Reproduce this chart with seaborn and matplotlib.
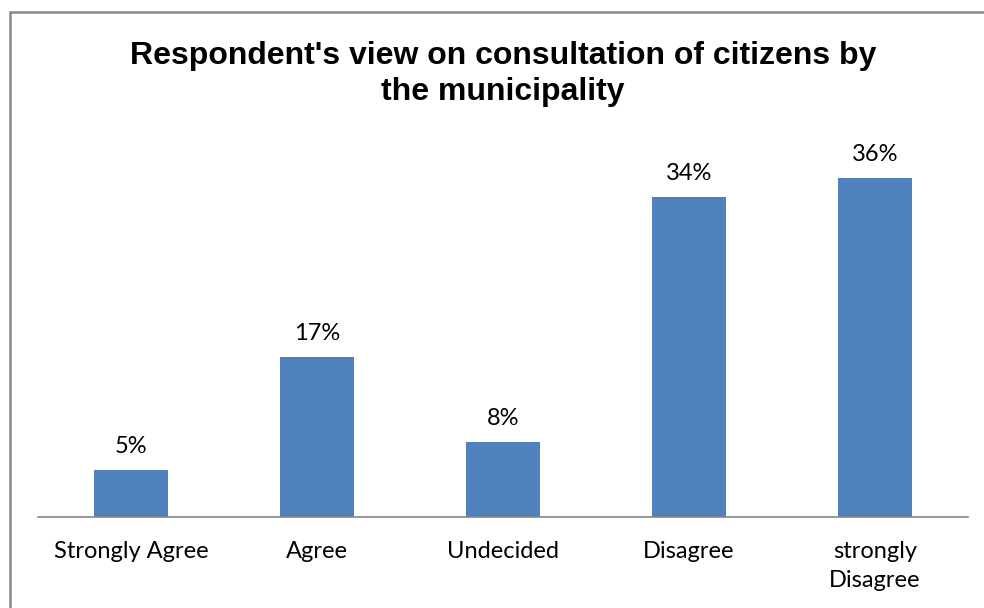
import matplotlib
matplotlib.use("Agg")
import matplotlib.pyplot as plt
import seaborn as sns
import pandas as pd
from matplotlib.patches import Rectangle

categories = ["Strongly Agree", "Agree", "Undecided", "Disagree", "strongly\nDisagree"]
percentages = [5, 17, 8, 34, 36]
title = "Respondent's view on consultation of citizens by\nthe municipality"

df = pd.DataFrame({"category": categories, "pct": percentages})

sns.set_theme(style="white")
plt.rcParams["font.family"] = ["Lato", "DejaVu Sans"]

fig = plt.figure(figsize=(9.84, 6.08), dpi=100)
ax = fig.add_axes([38 / 984, 91 / 608, 930 / 984, 377 / 608])

sns.barplot(data=df, x="category", y="pct", color="#4F81BD", saturation=1,
            width=0.4, ax=ax, edgecolor="none")

ax.set_ylim(0, 40)
ax.set_xlim(-0.5, len(categories) - 0.5)
ax.set_xlabel("")
ax.set_ylabel("")
ax.set_yticks([])
for side in ("left", "right", "top"):
    ax.spines[side].set_visible(False)
ax.spines["bottom"].set_color("#868686")
ax.spines["bottom"].set_linewidth(1.2)
ax.tick_params(axis="x", length=0, pad=17, labelsize=17, colors="black")
for lbl in ax.get_xticklabels():
    lbl.set_linespacing(1.5)
    lbl.set_verticalalignment("top")

for i, v in enumerate(percentages):
    ax.annotate(f"{v}%", (i, v), xytext=(0, 9), textcoords="offset points",
                ha="center", va="bottom", fontsize=17, color="black")

fig.text(503 / 984, 1 - 41 / 608, title, ha="center", va="top", color="black",
         fontsize=23, fontweight="bold", family=["Liberation Sans", "DejaVu Sans"],
         linespacing=1.28)

# outer chart frame
fig.patches.append(Rectangle((10 / 984, -0.05), 1.0, 1 - 12 / 608 + 0.05,
                             transform=fig.transFigure, fill=False,
                             edgecolor="#878787", linewidth=1.8))

fig.savefig("out.png", dpi=100)
